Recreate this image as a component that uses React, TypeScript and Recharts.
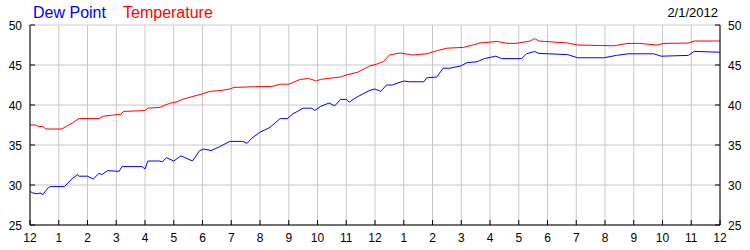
import React from 'react';
import { LineChart, Line, XAxis, YAxis, CartesianGrid } from 'recharts';

const hourTicks = [0, 1, 2, 3, 4, 5, 6, 7, 8, 9, 10, 11, 12, 13, 14, 15, 16, 17, 18, 19, 20, 21, 22, 23, 24];
const hourLabels = ['12', '1', '2', '3', '4', '5', '6', '7', '8', '9', '10', '11', '12', '1', '2', '3', '4', '5', '6', '7', '8', '9', '10', '11', '12'];
const yTicks = [25, 30, 35, 40, 45, 50];
const dateLabel = '2/1/2012';

const tempHours = [0, 0.2, 0.3, 0.45, 0.55, 1.1, 1.3, 1.5, 1.7, 2.4, 2.55, 2.8, 3.0, 3.15, 3.25, 4.0, 4.1, 4.5, 4.85, 5.1, 5.3, 5.6, 6.0, 6.25, 6.6, 6.95, 7.1, 8.0, 8.4, 8.7, 9.0, 9.4, 9.7, 9.97, 10.1, 10.8, 11.0, 11.4, 11.83, 12.05, 12.3, 12.5, 12.87, 13.3, 13.8, 14.17, 14.5, 15.07, 15.4, 15.65, 16.25, 16.6, 16.9, 17.4, 17.55, 17.7, 17.9, 18.7, 19.05, 20.3, 20.8, 21.2, 21.8, 22.05, 22.9, 23.1, 24];
const tempValues = [37.5, 37.5, 37.3, 37.3, 37.0, 37.0, 37.4, 37.8, 38.3, 38.3, 38.6, 38.7, 38.8, 38.8, 39.2, 39.3, 39.6, 39.7, 40.2, 40.4, 40.7, 41.0, 41.4, 41.7, 41.8, 42.0, 42.2, 42.3, 42.3, 42.6, 42.6, 43.2, 43.3, 43.0, 43.2, 43.5, 43.75, 44.1, 44.9, 45.1, 45.45, 46.25, 46.5, 46.25, 46.4, 46.8, 47.1, 47.2, 47.5, 47.75, 47.95, 47.7, 47.7, 48.0, 48.3, 48.0, 47.95, 47.75, 47.5, 47.4, 47.7, 47.7, 47.5, 47.7, 47.75, 48.0, 48.0];

const dewHours = [0, 0.1, 0.25, 0.35, 0.45, 0.55, 0.65, 0.7, 1.2, 1.45, 1.65, 1.7, 2.0, 2.2, 2.4, 2.5, 2.7, 3.1, 3.2, 3.9, 4.0, 4.1, 4.5, 4.6, 4.75, 5.0, 5.25, 5.65, 5.9, 6.05, 6.3, 6.6, 6.95, 7.4, 7.55, 7.7, 8.0, 8.35, 8.7, 8.95, 9.15, 9.5, 9.8, 9.9, 10.1, 10.4, 10.6, 10.8, 11.0, 11.1, 11.35, 11.83, 12.0, 12.2, 12.4, 12.6, 13.0, 13.2, 13.7, 13.8, 14.15, 14.37, 14.6, 15.0, 15.2, 15.55, 15.8, 16.2, 16.4, 17.1, 17.27, 17.55, 17.7, 18.7, 19.05, 19.95, 20.4, 20.8, 21.7, 21.95, 22.9, 23.1, 24];
const dewValues = [29.2, 29.0, 28.9, 29.0, 28.8, 29.3, 29.7, 29.8, 29.8, 30.75, 31.3, 31.1, 31.1, 30.75, 31.45, 31.3, 31.8, 31.7, 32.3, 32.3, 32.0, 33.0, 33.0, 32.9, 33.4, 33.0, 33.65, 33.0, 34.3, 34.5, 34.3, 34.8, 35.45, 35.45, 35.2, 35.8, 36.6, 37.2, 38.3, 38.3, 38.9, 39.6, 39.6, 39.3, 39.8, 40.25, 39.9, 40.7, 40.7, 40.35, 40.95, 41.85, 42.0, 41.7, 42.5, 42.5, 43.0, 42.9, 42.9, 43.4, 43.5, 44.6, 44.6, 44.9, 45.3, 45.4, 45.8, 46.1, 45.8, 45.8, 46.4, 46.7, 46.45, 46.3, 45.9, 45.9, 46.2, 46.4, 46.4, 46.1, 46.2, 46.7, 46.6];

const tempData = tempHours.map((h, i) => ({ h, v: tempValues[i] }));
const dewData = dewHours.map((h, i) => ({ h, v: dewValues[i] }));

const FONT = 'Arial, "Liberation Sans", sans-serif';

const BottomTick = (props: any) => {
  const { x, y, payload } = props;
  const label = hourLabels[hourTicks.indexOf(payload.value)];
  return (
    <g>
      <line x1={x} x2={x} y1={y} y2={y - 5} stroke="#000" />
      <text x={x} y={y + 17} textAnchor="middle" fontSize={12} fontFamily={FONT} fill="#000">{label}</text>
    </g>
  );
};

const TopTick = (props: any) => {
  const { x, y } = props;
  return <line x1={x} x2={x} y1={y} y2={y + 5} stroke="#000" />;
};

const LeftTick = (props: any) => {
  const { x, y, payload } = props;
  return (
    <g>
      <line x1={x} x2={x + 5} y1={y} y2={y} stroke="#000" />
      <text x={x - 8} y={y + 4.5} textAnchor="end" fontSize={12} fontFamily={FONT} fill="#000">{payload.value}</text>
    </g>
  );
};

const RightTick = (props: any) => {
  const { x, y, payload } = props;
  return (
    <g>
      <line x1={x - 5} x2={x} y1={y} y2={y} stroke="#000" />
      <text x={x + 8} y={y + 4.5} textAnchor="start" fontSize={12} fontFamily={FONT} fill="#000">{payload.value}</text>
    </g>
  );
};

export default function App() {
  return (
    <div style={{ position: 'absolute', left: 0, top: 0, width: 750, height: 250, background: '#fff', fontFamily: FONT }}>
      <LineChart width={750} height={250} data={tempData} margin={{ top: 25, right: 0, bottom: 0, left: 0 }}>
        <CartesianGrid yAxisId="left" stroke="#c8c8c8" strokeWidth={1} />
        <XAxis dataKey="h" type="number" domain={[0, 24]} ticks={hourTicks} interval={0} height={25}
          axisLine={{ stroke: '#000' }} tickLine={false} tickSize={0} tickMargin={0} tick={<BottomTick />} allowDataOverflow />
        <XAxis xAxisId="top" orientation="top" dataKey="h" type="number" domain={[0, 24]} ticks={hourTicks} interval={0} height={0}
          axisLine={{ stroke: '#000' }} tickLine={false} tickSize={0} tickMargin={0} tick={<TopTick />} allowDataOverflow />
        <YAxis yAxisId="left" orientation="left" type="number" domain={[25, 50]} ticks={yTicks} interval={0} width={30}
          axisLine={{ stroke: '#000' }} tickLine={false} tickSize={0} tickMargin={0} tick={<LeftTick />} allowDataOverflow />
        <YAxis yAxisId="right" orientation="right" type="number" domain={[25, 50]} ticks={yTicks} interval={0} width={30}
          axisLine={{ stroke: '#000' }} tickLine={false} tickSize={0} tickMargin={0} tick={<RightTick />} allowDataOverflow />
        <Line yAxisId="left" data={dewData} dataKey="v" type="linear" stroke="#0000ff" strokeWidth={1} dot={false} isAnimationActive={false} />
        <Line yAxisId="left" data={tempData} dataKey="v" type="linear" stroke="#ff0000" strokeWidth={1} dot={false} isAnimationActive={false} />
      </LineChart>
      <div style={{ position: 'absolute', left: 33, top: 5, fontSize: 16, lineHeight: '16px', color: '#0000ff', whiteSpace: 'nowrap' }}>Dew Point</div>
      <div style={{ position: 'absolute', left: 123, top: 5, fontSize: 16, lineHeight: '16px', color: '#ff0000', whiteSpace: 'nowrap' }}>Temperature</div>
      <div style={{ position: 'absolute', right: 32, top: 6, fontSize: 13, lineHeight: '13px', color: '#000', whiteSpace: 'nowrap' }}>{dateLabel}</div>
    </div>
  );
}
